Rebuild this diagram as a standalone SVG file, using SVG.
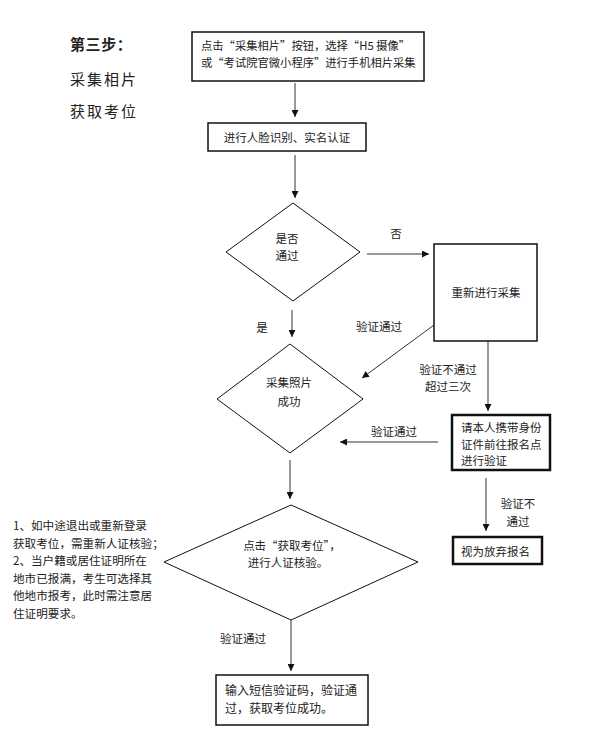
<svg xmlns="http://www.w3.org/2000/svg" width="590" height="741" viewBox="0 0 590 741">
<style>
text{font-family:"Noto Sans CJK SC","Liberation Serif",sans-serif;fill:#222;font-size:11.5px;dominant-baseline:central}
.m{text-anchor:middle}
.box{fill:#fff;stroke:#111;stroke-width:1.5}
.thick{fill:#fff;stroke:#111;stroke-width:2.5}
.dia{fill:#fff;stroke:#111;stroke-width:1}
.c line{stroke:#333;stroke-width:1;marker-end:url(#ah)}
.title{font-size:15px;letter-spacing:2px}
.note{font-size:11.6px}
</style>
<defs>
<marker id="ah" viewBox="0 0 10 10" refX="10" refY="5" markerWidth="7" markerHeight="7" markerUnits="userSpaceOnUse" orient="auto">
<path d="M0,0 L10,5 L0,10 z" fill="#111"/>
</marker>
</defs>
<rect width="590" height="741" fill="#fff"/>
<g id="title">
<text x="70" y="43" class="title" style="font-weight:bold;letter-spacing:0.6px">第三步：</text>
<text x="70" y="78" class="title">采集相片</text>
<text x="70" y="110" class="title">获取考位</text>
</g>
<g id="note" class="note">
<text x="13" y="525" class="note">1、如中途退出或重新登录</text>
<text x="13" y="542.6" class="note">获取考位，需重新人证核验；</text>
<text x="13" y="560.2" class="note">2、当户籍或居住证明所在</text>
<text x="13" y="577.8" class="note">地市已报满，考生可选择其</text>
<text x="13" y="595.4" class="note">他地市报考，此时需注意居</text>
<text x="13" y="613" class="note">住证明要求。</text>
</g>
<g class="c" id="connectors">
<line x1="295" y1="83" x2="295" y2="117"/>
<line x1="295" y1="155" x2="295" y2="198"/>
<line x1="367" y1="254" x2="429" y2="254"/>
<line x1="292" y1="310" x2="292" y2="337"/>
<line x1="434" y1="325" x2="362" y2="378"/>
<line x1="488" y1="341" x2="488" y2="411"/>
<line x1="438" y1="442" x2="340" y2="442"/>
<line x1="290" y1="460" x2="290" y2="499"/>
<line x1="486" y1="478" x2="486" y2="531"/>
<line x1="291" y1="620" x2="291" y2="671"/>
</g>
<g id="labels">
<text x="396" y="233" class="m">否</text>
<text x="262" y="327" class="m">是</text>
<text x="379" y="326" class="m">验证通过</text>
<text x="448" y="369" class="m">验证不通过</text>
<text x="448" y="386" class="m">超过三次</text>
<text x="394" y="431" class="m">验证通过</text>
<text x="518" y="503" class="m">验证不</text>
<text x="518" y="521" class="m">通过</text>
<text x="243" y="638" class="m">验证通过</text>
</g>
<g id="n1">
<rect x="192" y="32" width="232" height="49" class="box"/>
<text x="201" y="45" style="font-size:11.3px">点击“采集相片”按钮，选择“H5 摄像”</text>
<text x="201" y="62" style="font-size:11.3px">或“考试院官微小程序”进行手机相片采集</text>
</g>
<g id="n2">
<rect x="208" y="123" width="158" height="28" class="box"/>
<text x="287" y="137" class="m">进行人脸识别、实名认证</text>
</g>
<g id="d1">
<polygon points="293,203 360,252 293,301 226,252" class="dia"/>
<text x="287" y="238" class="m">是否</text>
<text x="287" y="255" class="m">通过</text>
</g>
<g id="n3">
<rect x="434" y="244" width="103" height="97" class="box"/>
<text x="486" y="292" class="m">重新进行采集</text>
</g>
<g id="d2">
<polygon points="290,344 363,399 290,453 217,399" class="dia"/>
<text x="289" y="382" class="m">采集照片</text>
<text x="289" y="401" class="m">成功</text>
</g>
<g id="n4">
<rect x="452" y="415" width="98" height="55" class="thick"/>
<text x="461" y="427">请本人携带身份</text>
<text x="461" y="443.5">证件前往报名点</text>
<text x="461" y="460">进行验证</text>
</g>
<g id="n5">
<rect x="453" y="537" width="89" height="27" class="thick"/>
<text x="461" y="551">视为放弃报名</text>
</g>
<g id="d3">
<polygon points="291,505 418,562 291,620 164,562" class="dia"/>
<text x="292" y="545" class="m">点击“获取考位”，</text>
<text x="288" y="562" class="m">进行人证核验。</text>
</g>
<g id="n6">
<rect x="216" y="675" width="152" height="50" class="box"/>
<text x="225" y="689" style="font-size:12px">输入短信验证码，验证通</text>
<text x="225" y="707" style="font-size:12px">过，获取考位成功。</text>
</g>
</svg>
